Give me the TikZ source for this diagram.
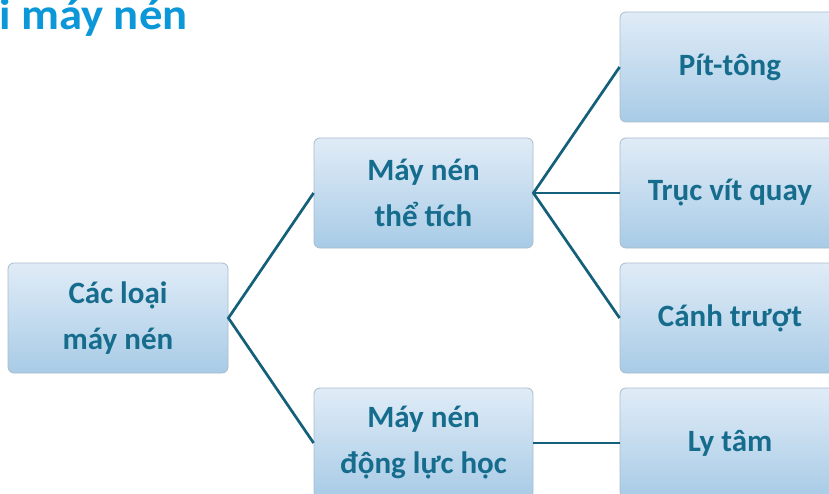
\documentclass[tikz,border=0pt]{standalone}
\usepackage{fontspec}
\setmainfont{Carlito}
\definecolor{boxtop}{RGB}{224,236,247}
\definecolor{boxbot}{RGB}{168,203,230}
\definecolor{boxedge}{RGB}{170,188,202}
\definecolor{labeltxt}{RGB}{22,108,140}
\definecolor{wire}{RGB}{20,96,122}
\definecolor{titleblue}{RGB}{12,152,216}
\tikzset{
  catbox/.style={rectangle, rounded corners=6pt, draw=boxedge, line width=0.8pt,
    top color=boxtop, bottom color=boxbot, minimum width=220pt, minimum height=110pt,
    align=center, text=labeltxt, font=\fontsize{31}{46}\selectfont\bfseries, inner sep=0pt},
  link/.style={draw=wire, line width=2.7pt}
}
\begin{document}
\begin{tikzpicture}[x=1pt,y=-1pt]
  \useasboundingbox (0,0) rectangle (829,494);
  \clip (0,0) rectangle (829,494);
  \fill[white] (0,0) rectangle (829,494);
  % heading
  \node[anchor=base west, inner sep=0pt, text=titleblue, xscale=1.06,
        font=\fontsize{44}{50}\selectfont\bfseries] (title) at (-1,30) {i máy nén};
  % tree boxes
  \node[catbox] (root) at (118,318) {Các loại\\máy nén};
  \node[catbox, minimum width=219pt] (vol) at (423.5,193) {Máy nén\\thể tích};
  \node[catbox, minimum width=219pt] (dyn) at (423.5,443) {Máy nén\\động lực học};
  \node[catbox] (pist) at (730,67) {Pít-tông};
  \node[catbox] (screw) at (730,193) {Trục vít quay};
  \node[catbox] (vane) at (730,318) {Cánh trượt};
  \node[catbox] (cent) at (730,443) {Ly tâm};
  % connectors
  \draw[link] (vol.west) -- (root.east) -- (dyn.west);
  \draw[link] (pist.west) -- (vol.east) -- (vane.west);
  \draw[link] (vol.east) -- (screw.west);
  \draw[link] (dyn.east) -- (cent.west);
\end{tikzpicture}
\end{document}
